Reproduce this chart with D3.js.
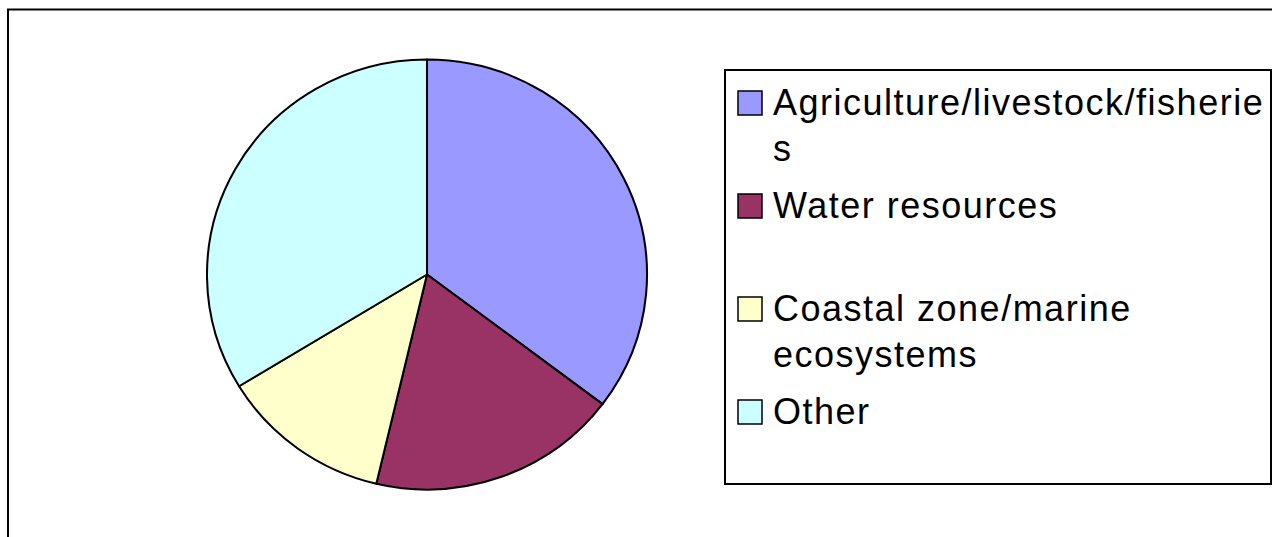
<!DOCTYPE html>
<html>
<head>
<meta charset="utf-8">
<script src="https://cdn.jsdelivr.net/npm/d3@7"></script>
<style>
  body { margin: 0; background: #fff; }
  svg { display: block; }
</style>
</head>
<body>
<div id="wrapper"></div>
<script>
// data (share of projects, %)
const categories = ["Agriculture/livestock/fisheries", "Water resources", "Coastal zone/marine ecosystems", "Other"]
const values = [35.3, 18.4, 12.6, 33.7]
const legendLines = [["Agriculture/livestock/fisherie", "s"], ["Water resources"], ["Coastal zone/marine", "ecosystems"], ["Other"]]
const sliceColors = ["#9999FF", "#993366", "#FFFFCC", "#CCFFFF"]

function drawPieChart() {
  //1_Dimensions
  const width = 1272
  const height = 537
  const pie = {cx: 427, cy: 274.5, rx: 220, ry: 215}
  const legend = {x: 725, y: 70, width: 546, height: 414}

  //2_Canvas
  const svg = d3.select("#wrapper")
    .append("svg")
      .attr("width", width)
      .attr("height", height)

  // chart area frame (runs off the right and bottom)
  svg.append("rect")
      .attr("x", 8)
      .attr("y", 9.5)
      .attr("width", width + 20)
      .attr("height", height + 20)
      .attr("fill", "none")
      .attr("stroke", "#000")
      .attr("stroke-width", 2)

  //3_Scales
  const color = d3.scaleOrdinal()
      .domain(categories)
      .range(sliceColors)

  const pieGen = d3.pie()
      .sort(null)
      .value(d => d.value)
  const arcGen = d3.arc()
      .innerRadius(0)
      .outerRadius(pie.ry)

  const data = categories.map((c, i) => ({name: c, value: values[i], lines: legendLines[i]}))

  //4_Draw pie
  const pieG = svg.append("g")
      .attr("transform", `translate(${pie.cx},${pie.cy}) scale(${pie.rx / pie.ry},1)`)

  pieG.selectAll("path")
    .data(pieGen(data))
    .join("path")
      .attr("d", arcGen)
      .attr("fill", d => color(d.data.name))
      .attr("stroke", "#000")
      .attr("stroke-width", 2)
      .attr("stroke-linejoin", "round")

  //5_Legend
  const legendG = svg.append("g")
      .attr("transform", `translate(${legend.x},${legend.y})`)

  legendG.append("rect")
      .attr("width", legend.width)
      .attr("height", legend.height)
      .attr("fill", "#fff")
      .attr("stroke", "#000")
      .attr("stroke-width", 2)

  const rowScale = d3.scaleBand()
      .domain(categories)
      .range([21, 21 + 4 * 103])

  const rows = legendG.selectAll(".row")
    .data(data)
    .join("g")
      .attr("class", "row")
      .attr("transform", d => `translate(13,${rowScale(d.name)})`)

  rows.append("rect")
      .attr("width", 24)
      .attr("height", 24)
      .attr("fill", d => color(d.name))
      .attr("stroke", "#000")
      .attr("stroke-width", 1.5)

  rows.append("text")
      .attr("y", 24)
      .style("font-family", "'Liberation Sans', Arial, sans-serif")
      .style("font-size", "36px")
      .style("letter-spacing", "1.5px")
      .attr("fill", "#000")
    .selectAll("tspan")
    .data(d => d.lines)
    .join("tspan")
      .attr("x", 35)
      .attr("dy", (d, i) => i === 0 ? 0 : 46)
      .text(d => d)
}
drawPieChart()
</script>
</body>
</html>
